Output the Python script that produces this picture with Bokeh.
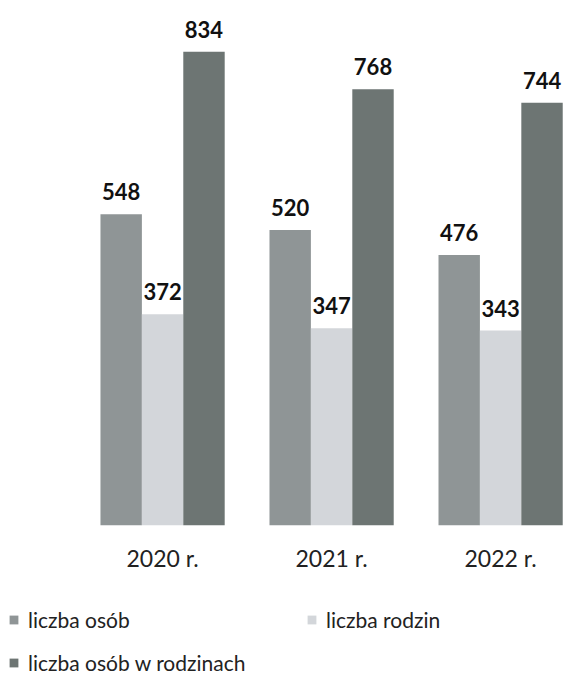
from bokeh.plotting import figure
from bokeh.models import ColumnDataSource, Legend, LegendItem, FixedTicker, LabelSet
from bokeh.core.properties import value
from bokeh.transform import dodge
from bokeh.layouts import column
from bokeh.embed import file_html
from bokeh.resources import INLINE

years = ["2020 r.", "2021 r.", "2022 r."]
liczba_osob = [548, 520, 476]
liczba_rodzin = [372, 347, 343]
liczba_osob_w_rodzinach = [834, 768, 744]
series_names = ["liczba osób", "liczba rodzin", "liczba osób w rodzinach"]
colors = ["#8f9596", "#d3d6da", "#6d7573"]

xs = list(range(len(years)))
src = ColumnDataSource(dict(x=xs, a=liczba_osob, b=liczba_rodzin, c=liczba_osob_w_rodzinach,
                            la=[str(v) for v in liczba_osob],
                            lb=[str(v) for v in liczba_rodzin],
                            lc=[str(v) for v in liczba_osob_w_rodzinach]))

# main chart
p = figure(frame_width=576, frame_height=525,
           output_backend="svg", toolbar_location=None,
           x_range=(-0.959, 2.449), y_range=(0, 924))
p.min_border_left = 0
p.min_border_right = 0
p.min_border_top = 0
p.min_border_bottom = 0
p.outline_line_color = None
p.grid.grid_line_color = None
p.yaxis.visible = False
p.background_fill_color = "white"

off = 0.245
w = 0.245
cols = ["a", "b", "c"]
labs = ["la", "lb", "lc"]
offsets = [-off, 0, off]
for col, lab, o, color in zip(cols, labs, offsets, colors):
    p.vbar(x=dodge("x", o, range=p.x_range), top=col, width=w, source=src,
           fill_color=color, line_color=None)
    p.add_layout(LabelSet(x=dodge("x", o, range=p.x_range), y=col, text=lab, source=src,
                          text_align="center", text_baseline="bottom", y_offset=14,
                          text_font=value("Lato"), text_font_style="bold", text_font_size="22px",
                          text_color="#111111"))

ax = p.xaxis[0]
ax.ticker = FixedTicker(ticks=xs)
ax.major_label_overrides = {i: y for i, y in enumerate(years)}
ax.axis_line_color = None
ax.major_tick_line_color = None
ax.minor_tick_line_color = None
ax.major_tick_out = 0
ax.major_tick_in = 0
ax.major_label_standoff = 18
ax.major_label_text_font = "Lato"
ax.major_label_text_font_size = "23px"
ax.major_label_text_color = "#222222"

# legend strip below the chart (same series, drawn out of view so only the legend shows)
p2 = figure(width=576, height=103, output_backend="svg", toolbar_location=None,
            x_axis_type=None, y_axis_type=None,
            x_range=(-0.959, 2.449), y_range=(5000, 6000))
p2.min_border_left = 0
p2.min_border_right = 0
p2.min_border_top = 0
p2.min_border_bottom = 0
p2.outline_line_color = None
p2.grid.visible = False
p2.background_fill_color = "white"

legend_renderers = []
for col, o, color in zip(cols, offsets, colors):
    r = p2.vbar(x=dodge("x", o, range=p2.x_range), top=col, width=w, source=src,
                fill_color=color, line_color=None)
    legend_renderers.append(r)

legend = Legend(items=[LegendItem(label=n, renderers=[r]) for n, r in zip(series_names, legend_renderers)],
                ncols=2, location=(8, 2), orientation="horizontal")
legend.label_text_font = "Lato"
legend.label_text_font_size = "21px"
legend.label_text_color = "#222222"
legend.glyph_width = 11
legend.glyph_height = 11
legend.label_height = 20
legend.label_width = 260
legend.label_standoff = 9
legend.spacing = 18
legend.padding = 4
legend.margin = 0
legend.border_line_color = None
legend.background_fill_alpha = 0
p2.add_layout(legend)

layout = column(p, p2, spacing=0)
open("out.html", "w").write(file_html(layout, INLINE))
